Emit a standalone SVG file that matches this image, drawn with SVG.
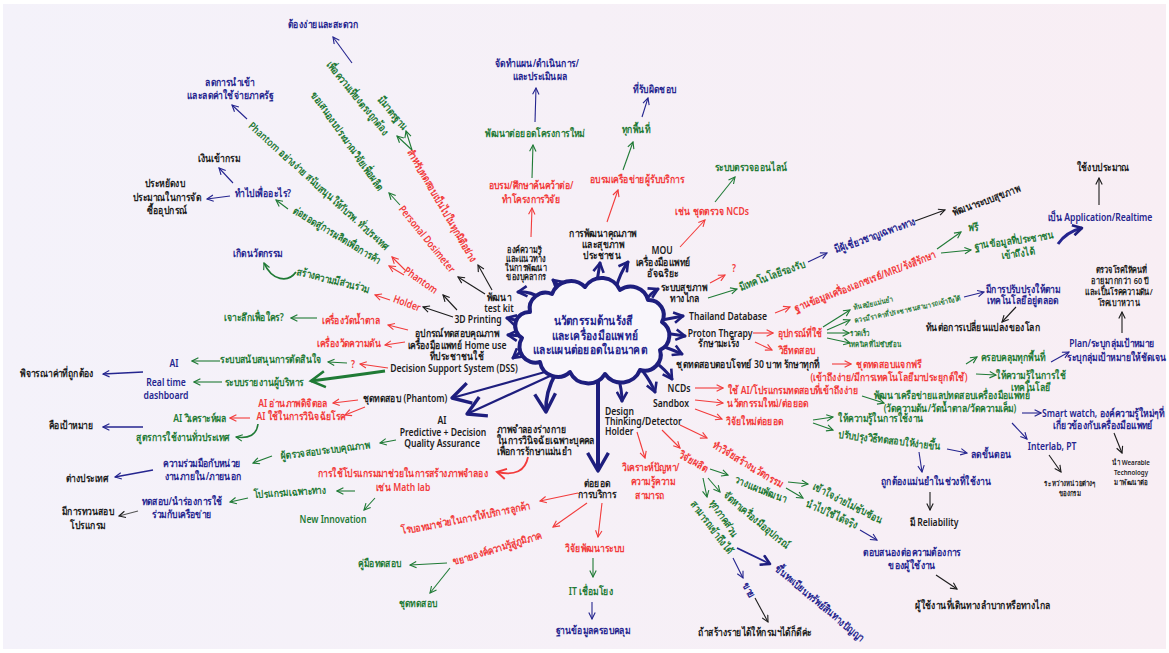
<svg xmlns="http://www.w3.org/2000/svg" width="1169" height="653" viewBox="0 0 1169 653">
<defs>
<linearGradient id="bg" x1="0" y1="0" x2="1" y2="0"><stop offset="0" stop-color="#f4f2fa"/><stop offset="1" stop-color="#f8eef4"/></linearGradient>
<marker id="aN" viewBox="0 0 10 10" refX="9" refY="5" markerWidth="8" markerHeight="8" markerUnits="userSpaceOnUse" orient="auto"><path d="M1,1 L9,5 L1,9" fill="none" stroke="#25258f" stroke-width="1.4"/></marker>
<marker id="aK" viewBox="0 0 10 10" refX="9" refY="5" markerWidth="8" markerHeight="8" markerUnits="userSpaceOnUse" orient="auto"><path d="M1,1 L9,5 L1,9" fill="none" stroke="#1c1c1c" stroke-width="1.4"/></marker>
<marker id="aR" viewBox="0 0 10 10" refX="9" refY="5" markerWidth="8" markerHeight="8" markerUnits="userSpaceOnUse" orient="auto"><path d="M1,1 L9,5 L1,9" fill="none" stroke="#f23b3b" stroke-width="1.4"/></marker>
<marker id="aG" viewBox="0 0 10 10" refX="9" refY="5" markerWidth="8" markerHeight="8" markerUnits="userSpaceOnUse" orient="auto"><path d="M1,1 L9,5 L1,9" fill="none" stroke="#1f7a35" stroke-width="1.4"/></marker>
<marker id="aNB" viewBox="0 0 10 10" refX="8" refY="5" markerWidth="13" markerHeight="13" markerUnits="userSpaceOnUse" orient="auto"><path d="M1,1 L8,5 L1,9" fill="none" stroke="#1e1e7e" stroke-width="2" stroke-linejoin="round"/></marker>
<marker id="aNX" viewBox="0 0 10 10" refX="8" refY="5" markerWidth="26" markerHeight="26" markerUnits="userSpaceOnUse" orient="auto"><path d="M1,1 L8,5 L1,9" fill="none" stroke="#1e1e7e" stroke-width="1.3" stroke-linejoin="round"/></marker>
<marker id="aGB" viewBox="0 0 10 10" refX="8" refY="5" markerWidth="20" markerHeight="20" markerUnits="userSpaceOnUse" orient="auto"><path d="M1,1 L8,5 L1,9" fill="none" stroke="#1f7a35" stroke-width="1.3"/></marker>
<marker id="aRB" viewBox="0 0 10 10" refX="8" refY="5" markerWidth="13" markerHeight="13" markerUnits="userSpaceOnUse" orient="auto"><path d="M1,1 L8,5 L1,9" fill="none" stroke="#f23b3b" stroke-width="1.5"/></marker>
</defs>
<style>
text{font-family:'Noto Sans',sans-serif;font-size:10.5px;font-weight:600;text-anchor:middle;transform-box:fill-box;transform-origin:center;transform:scaleX(.82)}
.n{fill:#25258f}.k{fill:#1c1c1c}.r{fill:#f23b3b}.g{fill:#1f7a35}
.s{font-size:9px}.xs{font-size:7.5px}
.st{text-anchor:start;transform-origin:left center}
.ctr{font-size:12.5px;font-weight:700;fill:#25258f}
.c{fill:none;stroke-width:1.1}
.cn{stroke:#25258f;marker-end:url(#aN)}.ck{stroke:#1c1c1c;marker-end:url(#aK)}
.cr{stroke:#f23b3b;marker-end:url(#aR)}.cg{stroke:#1f7a35;marker-end:url(#aG)}
.cc{fill:none;stroke:#1e1e7e;stroke-width:3;stroke-linecap:round;marker-end:url(#aNB)}
</style>
<rect width="1169" height="653" fill="#ffffff"/>
<rect x="3" y="4" width="1163" height="645" fill="url(#bg)"/>

<g id="connectors">
<path class="c cn" d="M352,63 L333,37"/>
<path class="c cg" d="M412,150 L397,136"/>
<path class="c cg" d="M412,150 L406,131"/>
<path class="c cg" d="M400,205 L389,193"/>
<path class="c cn" d="M247,119 L232,105"/>
<path class="c cn" d="M233,183 L219,168"/>
<path class="c cn" d="M230,196 L207,199"/>
<path class="c cg" d="M288,209 L276,200"/>
<path class="c cr" d="M405,270 L392,257"/>
<path class="c cr" d="M404,275 L389,266"/>
<path class="c cr" d="M390,300 L375,295"/>
<path class="c cg" style="stroke-width:1.8" d="M296,272 C288,283 272,281 264,263"/>
<path class="c cg" d="M317,318 L291,318"/>
<path class="c cr" d="M408,330 L388,325"/>
<path class="c cr" d="M405,342 L385,345"/>
<path class="c ck" d="M453,317 L423,307"/>
<path class="c ck" d="M457,310 L443,295"/>
<path class="c ck" d="M485,294 L458,277"/>
<path class="c ck" d="M492,290 L478,265"/>
<path class="c cr" d="M388,368 L360,364"/>
<path class="c cg" d="M347,363 L328,362"/>
<path fill="none" stroke="#1f7a35" stroke-width="2.8" marker-end="url(#aGB)" d="M385,371 Q350,376 311,381"/>
<path class="c cg" d="M220,361 L192,361"/>
<path class="c cg" d="M222,382 L194,382"/>
<path class="c cn" style="stroke-width:1.5" d="M143,372 L103,374"/>
<path class="c cr" d="M358,400 L333,403"/>
<path class="c cr" d="M365,407 L345,415"/>
<path class="c cr" d="M250,418 L230,418"/>
<path class="c cg" style="stroke-width:1.6" d="M258,424 Q256,440 236,437"/>
<path class="c cn" style="stroke-width:1.5" d="M143,427 L103,427"/>
<path class="c cg" d="M396,440 L380,443"/>
<path class="c cg" d="M272,456 L253,463"/>
<path class="c cn" style="stroke-width:1.5" d="M153,470 L115,477"/>
<path fill="none" stroke="#f23b3b" stroke-width="1.8" marker-end="url(#aRB)" d="M528,457 Q524,478 497,472"/>
<path class="c cg" d="M355,491 L337,491"/>
<path class="c cg" d="M248,498 L230,502"/>
<path class="c ck" style="stroke:#555" d="M138,511 L119,516"/>
<path class="c cg" d="M375,498 L364,510"/>
<path class="c cr" d="M578,493 L540,501"/>
<path class="c cr" d="M587,503 L553,527"/>
<path class="c cg" d="M447,563 L410,565"/>
<path class="c cg" d="M450,568 L430,593"/>
<path class="c cr" d="M602,503 L598,537"/>
<path class="c cg" d="M593,558 L593,577"/>
<path class="c cn" d="M592,602 L592,619"/>
<path class="c cr" d="M637,432 L645,458"/>
<path class="c cr" d="M662,430 L680,448"/>
<path class="c cr" d="M680,425 L707,438"/>
<path class="c cg" d="M788,482 L808,484"/>
<path class="c cg" d="M786,488 L803,498"/>
<path class="c cn" d="M860,530 L877,540"/>
<path class="c ck" d="M936,575 L957,589"/>
<path class="c cg" d="M710,469 L728,475"/>
<path class="c cg" d="M708,478 L720,492"/>
<path class="c cg" d="M703,478 L707,497"/>
<path fill="none" stroke="#25258f" stroke-width="1.8" marker-end="url(#aNB)" d="M737,548 L770,564"/>
<path class="c cn" d="M733,558 L743,578"/>
<path class="c ck" d="M755,598 L768,622"/>
<path class="c cr" d="M680,247 L705,220"/>
<path class="c cg" d="M715,202 L735,177"/>
<path class="c cr" d="M607,222 L618,190"/>
<path class="c cg" d="M623,170 L633,142"/>
<path class="c cn" d="M642,117 L648,98"/>
<path class="c cr" d="M531,237 L532,208"/>
<path class="c cg" d="M532,178 L533,145"/>
<path class="c cn" d="M535,122 L536,88"/>
<path class="c cr" d="M710,283 L725,275"/>
<path class="c cg" d="M708,298 L737,289"/>
<path class="c cn" d="M808,262 L827,253"/>
<path class="c ck" d="M915,221 L945,210"/>
<path fill="none" stroke="#25258f" stroke-width="3" marker-end="url(#aNB)" d="M1058,244 Q1066,232 1082,228"/>
<path class="c ck" d="M1099,205 L1099,178"/>
<path class="c cr" d="M775,313 L790,307"/>
<path class="c cg" d="M937,249 L961,232"/>
<path class="c cg" d="M941,253 L971,250"/>
<path class="c cr" d="M753,333 L773,333"/>
<path class="c cr" d="M755,342 L772,350"/>
<path class="c cg" d="M823,327 L850,310"/>
<path class="c cg" d="M827,330 L850,320"/>
<path class="c cg" d="M827,333 L849,333"/>
<path class="c cg" d="M827,338 L850,343"/>
<path class="c cn" d="M964,297 L984,292"/>
<path class="c ck" d="M1016,307 L1002,322"/>
<path class="c cr" d="M832,364 L851,364"/>
<path class="c cg" d="M966,364 L977,357"/>
<path class="c cg" d="M976,374 L996,375"/>
<path class="c cn" d="M1051,362 L1069,352"/>
<path class="c ck" d="M1122,333 L1122,312"/>
<path class="c cr" d="M695,388 L723,388"/>
<path class="c cg" d="M862,396 L884,403"/>
<path class="c cn" d="M1022,413 L1041,413"/>
<path class="c ck" d="M1114,433 L1122,453"/>
<path class="c cn" d="M1012,423 L1027,439"/>
<path class="c ck" d="M1049,455 L1061,472"/>
<path class="c cr" d="M695,400 L723,403"/>
<path class="c cr" d="M695,409 L722,419"/>
<path class="c cg" d="M813,420 L833,417"/>
<path class="c cg" d="M813,423 L833,430"/>
<path class="c cn" d="M947,449 L967,453"/>
<path class="c cn" d="M919,452 L922,472"/>
<path class="c ck" d="M930,492 L930,510"/>
<path class="cc" d="M565,296 Q560,286 553,280"/>
<path class="cc" d="M596,288 Q598,275 600,263"/>
<path class="cc" d="M616,288 Q620,273 628,262"/>
<path class="cc" d="M645,302 Q650,293 658,289"/>
<path class="cc" d="M662,320 L683,316"/>
<path class="cc" d="M664,333 L685,336"/>
<path class="cc" d="M662,346 Q673,350 682,354"/>
<path class="cc" d="M655,362 Q666,370 672,379"/>
<path class="cc" d="M642,370 Q651,382 655,392"/>
<path class="cc" d="M618,376 Q622,390 622,401"/>
<path fill="none" stroke="#1e1e7e" stroke-width="4" marker-end="url(#aNX)" d="M598,376 L598,471"/>
<path fill="none" stroke="#1e1e7e" stroke-width="3.5" marker-end="url(#aNX)" d="M556,373 Q545,392 546,412"/>
<path fill="none" stroke="#1e1e7e" stroke-width="2.2" marker-end="url(#aNX)" d="M545,372 L452,398"/>
<path fill="none" stroke="#1e1e7e" stroke-width="2.2" marker-end="url(#aNX)" d="M550,376 L467,414"/>
<path class="cc" d="M527,347 L513,358"/>
<path class="cc" d="M523,336 L508,335"/>
<path class="cc" d="M523,322 L507,318"/>
<path class="cc" d="M540,298 Q530,291 518,292"/>
</g>

<g id="center">
<path d="M530,312 A16,16 0 0 1 552,294 A20,20 0 0 1 585,287 A20,20 0 0 1 620,290 A18,18 0 0 1 648,300 A15,15 0 0 1 662,322 A16,16 0 0 1 660,350 A16,16 0 0 1 640,370 A20,20 0 0 1 605,374 A20,20 0 0 1 570,372 A18,18 0 0 1 540,362 A16,16 0 0 1 522,338 A14,14 0 0 1 530,312 Z" fill="#f9f6fb" stroke="#1e1e7e" stroke-width="4" stroke-linejoin="round"/>
<text class="ctr" x="593" y="325">นวัตกรรมด้านรังสี</text>
<text class="ctr" x="595" y="340">และเครื่องมือแพทย์</text>
<text class="ctr" x="590" y="354">และแผนต่อยอดในอนาคต</text>
</g>

<g id="n-easy"><text class="n" x="323" y="28">ต้องง่ายและสะดวก</text></g>
<g id="n-accuracy"><text class="g" x="358" y="102" style="transform:rotate(50.7deg) scaleX(.82)">เพื่อความเที่ยงตรงถูกต้อง</text></g>
<g id="n-standard"><text class="g" x="393" y="117" style="transform:rotate(50.7deg) scaleX(.82)">มีมาตรฐาน</text></g>
<g id="n-test-all"><text class="r" x="442" y="209" style="transform:rotate(60deg) scaleX(.82)">สำหรับทดสอบเป็นไปในทุกมิติอย่าง</text></g>
<g id="n-budget"><text class="g" x="348" y="145" style="transform:rotate(55deg) scaleX(.82)">ขอเสนองบประมาณวิจัยเพื่อผลิต</text></g>
<g id="n-dosimeter"><text class="r" x="427" y="243" style="transform:rotate(51deg) scaleX(.82)">Personal Dosimeter</text></g>
<g id="n-phantom-simple"><text class="g" x="319" y="190" style="transform:rotate(42deg) scaleX(.82)">Phantom อย่างง่าย สนับสนุนให้กับรพ. ทั่วประเทศ</text></g>
<g id="n-reduce"><text class="n" x="230" y="86">ลดการนำเข้า</text><text class="n" x="230" y="99">และลดค่าใช้จ่ายภาครัฐ</text></g>
<g id="n-income"><text class="k" x="219" y="162">เงินเข้ากรม</text></g>
<g id="n-why"><text class="n" x="263" y="197">ทำไปเพื่ออะไร?</text></g>
<g id="n-save"><text class="k" x="165" y="187">ประหยัดงบ</text><text class="k" x="167" y="201">ประมาณในการจัด</text><text class="k" x="167" y="214">ซื้ออุปกรณ์</text></g>
<g id="n-commercial"><text class="g" x="337" y="239" style="transform:rotate(31deg) scaleX(.82)">ต่อยอดสู่การผลิตเพื่อการค้า</text></g>
<g id="n-phantom"><text class="r" x="421" y="284" style="transform:rotate(35deg) scaleX(.82)">Phantom</text></g>
<g id="n-holder"><text class="r" x="407" y="307" style="transform:rotate(20deg) scaleX(.82)">Holder</text></g>
<g id="n-participation"><text class="g" x="333" y="284" style="transform:rotate(14deg) scaleX(.82)">สร้างความมีส่วนร่วม</text></g>
<g id="n-innovation"><text class="n" x="258" y="257">เกิดนวัตกรรม</text></g>
<g id="n-for-whom"><text class="g" x="254" y="321">เจาะลึกเพื่อใคร?</text></g>
<g id="n-sugar"><text class="r" x="351" y="324">เครื่องวัดน้ำตาล</text></g>
<g id="n-pressure"><text class="r" x="349" y="347">เครื่องวัดความดัน</text></g>
<g id="n-homeuse"><text class="k" x="457" y="337">อุปกรณ์ทดสอบคุณภาพ</text><text class="k" x="457" y="349">เครื่องมือแพทย์ Home use</text><text class="k" x="457" y="360">ที่ประชาชนใช้</text></g>
<g id="n-3d"><text class="k" x="478" y="323">3D Printing</text></g>
<g id="n-testkit"><text class="k" x="499" y="301">พัฒนา</text><text class="k" x="499" y="312">test kit</text></g>
<g id="n-dss"><text class="k" x="454" y="372">Decision Support System (DSS)</text></g>
<g id="n-q"><text class="r" x="353" y="368">?</text></g>
<g id="n-decision"><text class="g" x="271" y="363">ระบบสนับสนุนการตัดสินใจ</text></g>
<g id="n-report"><text class="g" x="264" y="386">ระบบรายงานผู้บริหาร</text></g>
<g id="n-ai1"><text class="n" x="174" y="367">AI</text></g>
<g id="n-dashboard"><text class="n" x="166" y="386">Real time</text><text class="n" x="166" y="399">dashboard</text></g>
<g id="n-consider"><text class="k" x="57" y="377">พิจารณาค่าที่ถูกต้อง</text></g>
<g id="n-phantom-kit"><text class="k" x="405" y="402">ชุดทดสอบ (Phantom)</text></g>
<g id="n-ai-read"><text class="r" x="293" y="407">AI อ่านภาพดิจิตอล</text><text class="r" x="301" y="420">AI ใช้ในการวินิจฉัยโรค</text></g>
<g id="n-ai-analyse"><text class="g" x="200" y="422">AI วิเคราะห์ผล</text></g>
<g id="n-formula"><text class="g" x="183" y="441">สูตรการใช้งานทั่วประเทศ</text></g>
<g id="n-goal"><text class="k" x="71" y="429">คือเป้าหมาย</text></g>
<g id="n-ai-qa"><text class="k" x="442" y="424">AI</text><text class="k" x="443" y="436">Predictive + Decision</text><text class="k" x="442" y="447">Quality Assurance</text></g>
<g id="n-auditor"><text class="g" x="325" y="454" style="transform:rotate(-7deg) scaleX(.82)">ผู้ตรวจสอบระบบคุณภาพ</text></g>
<g id="n-cooperation"><text class="n" x="202" y="467">ความร่วมมือกับหน่วย</text><text class="n" x="203" y="480">งานภายใน/ภายนอก</text></g>
<g id="n-abroad"><text class="k" x="87" y="482">ต่างประเทศ</text></g>
<g id="n-simulation"><text class="r" x="403" y="477">การใช้โปรแกรมมาช่วยในการสร้างภาพจำลอง</text><text class="r" x="403" y="491">เช่น Math lab</text></g>
<g id="n-special-prog"><text class="g" x="290" y="496" style="transform:rotate(-4deg) scaleX(.82)">โปรแกรมเฉพาะทาง</text></g>
<g id="n-pilot"><text class="n" x="182" y="505">ทดสอบ/นำร่องการใช้</text><text class="n" x="182" y="518">ร่วมกับเครือข่าย</text></g>
<g id="n-verify"><text class="k" x="88" y="515">มีการทวนสอบ</text><text class="k" x="88" y="529">โปรแกรม</text></g>
<g id="n-new-innovation"><text class="g" x="333" y="523">New Innovation</text></g>
<g id="n-body-model"><text class="k st" x="497" y="433">ภาพจำลองร่างกาย</text><text class="k st" x="497" y="444">ในการวินิจฉัยเฉพาะบุคคล</text><text class="k st" x="497" y="455">เพื่อการรักษาแม่นยำ</text></g>
<g id="n-service"><text class="k" x="597" y="487">ต่อยอด</text><text class="k" x="597" y="498">การบริการ</text></g>
<g id="n-robot"><text class="r" x="466" y="522" style="transform:rotate(-11deg) scaleX(.82)">โรบอทมาช่วยในการให้บริการลูกค้า</text></g>
<g id="n-expand"><text class="r" x="497" y="552" style="transform:rotate(-17deg) scaleX(.82)">ขยายองค์ความรู้สู่ภูมิภาค</text></g>
<g id="n-manual"><text class="g" x="380" y="567">คู่มือทดสอบ</text></g>
<g id="n-kit"><text class="g" x="418" y="607">ชุดทดสอบ</text></g>
<g id="n-rnd"><text class="r" x="595" y="552">วิจัยพัฒนาระบบ</text></g>
<g id="n-it"><text class="g" x="591" y="595">IT เชื่อมโยง</text></g>
<g id="n-db"><text class="n" x="593" y="634">ฐานข้อมูลครอบคลุม</text></g>
<g id="n-design"><text class="k st" x="605" y="415">Design</text><text class="k st" x="605" y="425">Thinking/Detector</text><text class="k st" x="605" y="435">Holder</text></g>
<g id="n-analyse"><text class="r" x="651" y="471">วิเคราะห์ปัญหา/</text><text class="r" x="653" y="485">ความรู้ความ</text><text class="r" x="650" y="499">สามารถ</text></g>
<g id="n-produce"><text class="r" x="694" y="465" style="transform:rotate(30deg) scaleX(.82)">วิจัยผลิต</text></g>
<g id="n-research-inn"><text class="r" x="748" y="468" style="transform:rotate(31deg) scaleX(.82)">ทำวิจัยสร้างนวัตกรรม</text></g>
<g id="n-simple"><text class="g" x="848" y="507" style="transform:rotate(27deg) scaleX(.82)">เข้าใจง่ายไม่ซับซ้อน</text></g>
<g id="n-practical"><text class="g" x="832" y="518" style="transform:rotate(25deg) scaleX(.82)">นำไปใช้ได้จริง</text></g>
<g id="n-needs"><text class="n" x="912" y="556">ตอบสนองต่อความต้องการ</text><text class="n" x="912" y="569">ของผู้ใช้งาน</text></g>
<g id="n-remote-users"><text class="k" x="983" y="609">ผู้ใช้งานที่เดินทางลำบากหรือทางไกล</text></g>
<g id="n-plan-dev"><text class="g" x="761" y="493" style="transform:rotate(22deg) scaleX(.82)">วางแผนพัฒนา</text></g>
<g id="n-procure"><text class="g" x="757" y="524" style="transform:rotate(40deg) scaleX(.82)">จัดหาเครื่องมืออุปกรณ์</text></g>
<g id="n-all-sectors"><text class="g" x="724" y="522" style="transform:rotate(56deg) scaleX(.82)">ทุกภาคส่วน</text></g>
<g id="n-accessible"><text class="g" x="712" y="531" style="transform:rotate(53deg) scaleX(.82)">สามารถเข้าถึงได้</text></g>
<g id="n-ip"><text class="n" x="820" y="607" style="transform:rotate(40deg) scaleX(.82)">ขึ้นทะเบียนทรัพย์สินทางปัญญา</text></g>
<g id="n-sell"><text class="n" x="749" y="594" style="transform:rotate(60deg) scaleX(.82)">ขาย</text></g>
<g id="n-revenue"><text class="k" x="755" y="636">ถ้าสร้างรายได้ให้กรมฯได้ก็ดีค่ะ</text></g>
<g id="n-mou"><text class="k" x="662" y="254">MOU</text><text class="k" x="663" y="266">เครื่องมือแพทย์</text><text class="k" x="663" y="277">อัจฉริยะ</text></g>
<g id="n-ncd-kit"><text class="r" x="712" y="215">เช่น ชุดตรวจ NCDs</text></g>
<g id="n-online"><text class="g" x="751" y="171">ระบบตรวจออนไลน์</text></g>
<g id="n-quality"><text class="k" x="603" y="237">การพัฒนาคุณภาพ</text><text class="k" x="603" y="248">และสุขภาพ</text><text class="k" x="602" y="259">ประชาชน</text></g>
<g id="n-train-net"><text class="r" x="637" y="183">อบรมเครือข่ายผู้รับบริการ</text></g>
<g id="n-every-area"><text class="g" x="636" y="133">ทุกพื้นที่</text></g>
<g id="n-responsible"><text class="n" x="655" y="93">ที่รับผิดชอบ</text></g>
<g id="n-knowledge"><text class="k s" x="524" y="253">องค์ความรู้</text><text class="k s" x="526" y="262">และแนวทาง</text><text class="k s" x="526" y="271">ในการพัฒนา</text><text class="k s" x="526" y="280">ของบุคลากร</text></g>
<g id="n-train-research"><text class="r" x="531" y="189">อบรม/ศึกษาค้นคว้าต่อ/</text><text class="r" x="531" y="203">ทำโครงการวิจัย</text></g>
<g id="n-new-project"><text class="g" x="535" y="137">พัฒนาต่อยอดโครงการใหม่</text></g>
<g id="n-plan"><text class="n" x="537" y="67">จัดทำแผน/ดำเนินการ/</text><text class="n" x="540" y="80">และประเมินผล</text></g>
<g id="n-telehealth"><text class="k" x="684" y="291">ระบบสุขภาพ</text><text class="k" x="685" y="302">ทางไกล</text></g>
<g id="n-q2"><text class="r" x="734" y="272">?</text></g>
<g id="n-tech-support"><text class="g" x="772" y="279" style="transform:rotate(-20deg) scaleX(.82)">มีเทคโนโลยีรองรับ</text></g>
<g id="n-experts"><text class="n" x="875" y="239" style="transform:rotate(-20deg) scaleX(.82)">มีผู้เชี่ยวชาญเฉพาะทาง</text></g>
<g id="n-health-sys"><text class="k" x="986" y="204" style="transform:rotate(-20deg) scaleX(.82)">พัฒนาระบบสุขภาพ</text></g>
<g id="n-app"><text class="n" x="1100" y="221">เป็น Application/Realtime</text></g>
<g id="n-use-budget"><text class="k" x="1103" y="171">ใช้งบประมาณ</text></g>
<g id="n-thai-db"><text class="k" x="728" y="320">Thailand Database</text></g>
<g id="n-xray-db"><text class="r" x="865" y="285" style="transform:rotate(-21deg) scaleX(.82)">ฐานข้อมูลเครื่องเอกซเรย์/MRI/รังสีรักษา</text></g>
<g id="n-free"><text class="g" x="973" y="231">ฟรี</text></g>
<g id="n-public-db"><text class="g" x="1014" y="244" style="transform:rotate(-8deg) scaleX(.82)">ฐานข้อมูลที่ประชาชน</text><text class="g" x="1018" y="257" style="transform:rotate(-8deg) scaleX(.82)">เข้าถึงได้</text></g>
<g id="n-proton"><text class="k" x="720" y="337">Proton Therapy</text><text class="k" x="719" y="347">รักษามะเร็ง</text></g>
<g id="n-equipment"><text class="r" x="800" y="337">อุปกรณ์ที่ใช้</text></g>
<g id="n-method"><text class="r" x="797" y="354">วิธีทดสอบ</text></g>
<g id="n-modern"><text class="g xs" x="873" y="306" style="transform:rotate(-12deg) scaleX(.82)">ทันสมัยแม่นยำ</text></g>
<g id="n-price"><text class="g xs" x="907" y="312" style="transform:rotate(-12deg) scaleX(.82)">ควรมีราคาที่ประชาชนสามารถเข้าถึงได้</text></g>
<g id="n-fast"><text class="g xs" x="860" y="336">รวดเร็ว</text></g>
<g id="n-technique"><text class="g xs" x="875" y="347">เทคนิคที่ไม่ซับซ้อน</text></g>
<g id="n-improve"><text class="n" x="1023" y="293">มีการปรับปรุงให้ตาม</text><text class="n" x="1023" y="304">เทคโนโลยีอยู่ตลอด</text></g>
<g id="n-world"><text class="k" x="983" y="331">ทันต่อการเปลี่ยนแปลงของโลก</text></g>
<g id="n-30baht"><text class="k" x="748" y="368">ชุดทดสอบตอบโจทย์ 30 บาท รักษาทุกที่</text></g>
<g id="n-free-kit"><text class="r" x="889" y="368">ชุดทดสอบแจกฟรี</text><text class="r" x="889" y="381">(เข้าถึงง่าย/มีการเทคโนโลยีมาประยุกต์ใช้)</text></g>
<g id="n-coverage"><text class="g" x="1013" y="361">ครอบคลุมทุกพื้นที่</text></g>
<g id="n-tech-know"><text class="g" x="1031" y="379">ให้ความรู้ในการใช้</text><text class="g" x="1031" y="391">เทคโนโลยี</text></g>
<g id="n-target"><text class="n" x="1112" y="347">Plan/ระบุกลุ่มเป้าหมาย</text><text class="n" x="1117" y="361">ระบุกลุ่มเป้าหมายให้ชัดเจน</text></g>
<g id="n-elderly"><text class="k s" x="1121" y="273">ตรวจโรคให้คนที่</text><text class="k s" x="1120" y="284">อายุมากกว่า 60 ปี</text><text class="k s" x="1119" y="295">และเป็นโรคความดัน/</text><text class="k s" x="1119" y="306">โรคเบาหวาน</text></g>
<g id="n-ncds"><text class="k" x="679" y="392">NCDs</text></g>
<g id="n-ai-prog"><text class="r" x="793" y="394">ใช้ AI/โปรแกรมทดสอบที่เข้าถึงง่าย</text></g>
<g id="n-lab-net"><text class="g" x="952" y="399">พัฒนาเครือข่ายแลปทดสอบเครื่องมือแพทย์</text><text class="g" x="950" y="412">(วัดความดัน/วัดน้ำตาล/วัดความเค็ม)</text></g>
<g id="n-smartwatch"><text class="n" x="1103" y="417">Smart watch, องค์ความรู้ใหม่ๆที่</text><text class="n" x="1103" y="429">เกี่ยวข้องกับเครื่องมือแพทย์</text></g>
<g id="n-wearable"><text class="k xs" x="1131" y="465">นำ Wearable</text><text class="k xs" x="1131" y="475">Technology</text><text class="k xs" x="1131" y="485">มาพัฒนาต่อ</text></g>
<g id="n-interlab"><text class="n" x="1052" y="450">Interlab, PT</text></g>
<g id="n-between"><text class="k xs" x="1070" y="486">ระหว่างหน่วยต่างๆ</text><text class="k xs" x="1070" y="496">ของกรม</text></g>
<g id="n-sandbox"><text class="k" x="671" y="407">Sandbox</text></g>
<g id="n-new-inn"><text class="r" x="768" y="407">นวัตกรรมใหม่/ต่อยอด</text></g>
<g id="n-new-research"><text class="r" x="755" y="425">วิจัยใหม่ต่อยอด</text></g>
<g id="n-usage-know"><text class="g" x="881" y="422">ให้ความรู้ในการใช้งาน</text></g>
<g id="n-simplify"><text class="g" x="890" y="444" style="transform:rotate(7deg) scaleX(.82)">ปรับปรุงวิธีทดสอบให้ง่ายขึ้น</text></g>
<g id="n-fewer-steps"><text class="n" x="991" y="458">ลดขั้นตอน</text></g>
<g id="n-precise"><text class="n" x="936" y="485">ถูกต้องแม่นยำในช่วงที่ใช้งาน</text></g>
<g id="n-reliability"><text class="k" x="934" y="526">มี Reliability</text></g>
</svg>
